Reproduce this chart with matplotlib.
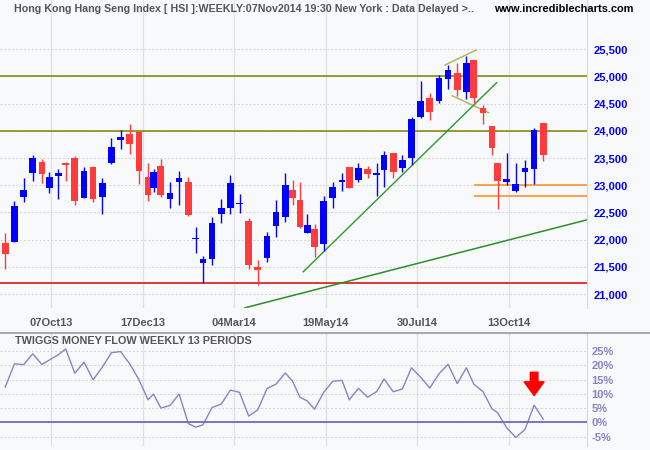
import numpy as np
import matplotlib.pyplot as plt

plt.rcParams['font.family'] = ['Liberation Sans', 'DejaVu Sans']

# weekly HSI candles (Aug 2013 - Nov 2014)
opens = [21937, 21961, 22789, 23230, 23427, 22954, 23164, 23408, 23500, 22770,
         23335, 22789, 23414, 23837, 23942, 23978, 23151, 22954, 23353, 22752,
         23064, 23059, 22012, 21569, 21648, 22476, 22586, 22650, 22342, 21490,
         21667, 22255, 22421, 22912, 22728, 22126, 22195, 21924, 22770, 23064,
         23335, 23101, 23298, 23182, 23285, 23592, 23322, 23506, 24260, 24604,
         24548, 24958, 25063, 24719, 25302, 24420, 24089, 23408, 23059, 22899,
         23248, 23292, 24149]
highs = [22121, 22709, 23132, 23555, 23482, 23243, 23298, 23427, 23537, 23335,
         23353, 23132, 23868, 24015, 24125, 23990, 23408, 23298, 23482, 23059,
         23261, 23151, 22231, 21698, 22415, 22746, 23185, 22833, 22397, 21619,
         22139, 22728, 23224, 23096, 23059, 22465, 22281, 22796, 23053, 23219,
         23335, 23403, 23353, 23403, 23629, 23592, 23555, 24254, 24916, 24696,
         25027, 25211, 25253, 25382, 25302, 24475, 24089, 23408, 23587, 23403,
         23463, 24052, 24149]
lows = [21459, 21950, 22697, 23083, 23046, 22862, 22752, 23083, 22641, 22770,
        22697, 22476, 23395, 23671, 23579, 23028, 22715, 22880, 22789, 22586,
        22641, 22434, 21759, 21196, 21538, 22310, 22474, 22494, 21464, 21159,
        21588, 22053, 22329, 22641, 22218, 22115, 21685, 21795, 22575, 22899,
        22954, 23064, 23138, 22807, 22972, 23138, 23248, 23377, 24236, 24199,
        24506, 24775, 24646, 24591, 24506, 24120, 23561, 22568, 22998, 22880,
        22972, 23022, 23451]
closes = [21735, 22617, 22904, 23500, 23211, 23151, 23224, 23366, 22715, 23261,
          22752, 23040, 23702, 23886, 23763, 23267, 22825, 23243, 22825, 22862,
          23132, 22452, 22036, 21643, 22305, 22581, 23038, 22675, 21538, 21446,
          22066, 22507, 23004, 22770, 22237, 22263, 21869, 22704, 22967, 23090,
          22954, 23316, 23211, 23219, 23555, 23248, 23469, 24217, 24548, 24352,
          24977, 25119, 24756, 25247, 24609, 24322, 23690, 23083, 23108, 23022,
          23316, 24015, 23555]
# trading days in each week (holiday weeks are shorter)
days_in_week = [5, 5, 5, 5, 5, 4, 5, 4, 5, 5, 5, 5, 5, 5, 5, 5, 5, 3, 4, 5,
                5, 5, 4, 4, 5, 5, 5, 5, 5, 5, 5, 5, 5, 4, 4, 4, 4, 5, 5, 5,
                4, 5, 5, 5, 4, 5, 5, 5, 5, 5, 5, 5, 5, 5, 4, 5, 5, 3, 5, 5,
                5, 5, 5]
money_flow = [12.4, 20.5, 20.2, 24.0, 20.3, 21.8, 23.7, 25.7, 17.2, 21.1,
              14.9, 19.3, 24.4, 24.8, 20.5, 15.0, 7.9, 9.9, 5.0, 5.9,
              9.9, -0.4, -1.7, -0.9, 5.2, 6.4, 11.3, 10.5, 2.2, 4.4,
              11.8, 13.4, 17.3, 14.4, 8.8, 7.5, 4.6, 10.5, 14.4, 14.7,
              7.9, 11.9, 8.8, 10.8, 15.2, 10.7, 11.7, 19.1, 15.8, 12.0,
              17.0, 20.3, 13.6, 19.1, 13.4, 10.8, 4.7, 3.4, -1.9, -5.3,
              -2.5, 6.0, 1.1]

tick_labels = ['07Oct13', '17Dec13', '04Mar14', '19May14', '30Jul14', '13Oct14']
tick_week = [7, 17, 28, 39, 49, 60]
tick_days_back = [4, 3, 3, 4, 2, 4]

# drawn trendlines: (day, price) end points
pennant_top = [(245.3, 25210), (262.3, 25486)]
pennant_bottom = [(249.3, 24646), (269.2, 24333)]
up_trend = [(167.8, 21409), (273.5, 24885)]
long_trend = [(136.0, 20747), (340.0, 22512)]
resistance = [25000, 24000]
support_low = 21200
support_recent = [23000, 22800]
support_recent_start = 261

x = np.cumsum(days_in_week)
tick_pos = [x[w - 1] - b for w, b in zip(tick_week, tick_days_back)]

bg = '#f8f9fb'
fig = plt.figure(figsize=(6.5, 4.5), dpi=100, facecolor=bg)
W, H = 650, 450
ax = fig.add_axes([0 / W, (H - 308) / H, 587 / W, 308 / H], facecolor=bg)
ax2 = fig.add_axes([0 / W, (H - 446) / H, 587 / W, 113 / H], facecolor=bg)

xmin, xmax = 2.1, 322.9
for a in (ax, ax2):
    a.set_xlim(xmin, xmax)
    a.set_xticks(tick_pos)
    for s in ['left', 'top', 'bottom']:
        a.spines[s].set_visible(False)
    a.spines['right'].set_color('#d8d8d8')
    a.grid(axis='x', color='#e2e2e2', lw=1)
    a.grid(axis='y', color='#d9d9d9', lw=0.8, ls=(0, (2, 1.5)))
    a.set_axisbelow(True)
    a.yaxis.tick_right()
    a.tick_params(length=0)

# candles
for xi, o, h, l, c in zip(x, opens, highs, lows, closes):
    col = '#0000ff' if c >= o else '#ff3b3b'
    ax.vlines(xi, l, h, color=col, lw=1.0, zorder=3)
    ax.bar(xi, max(abs(c - o), 20), bottom=min(o, c), width=3.66, color=col, zorder=3)

for lvl in resistance:
    ax.axhline(lvl, color='#808000', lw=1.1, zorder=2)
ax.axhline(support_low, color='#e00000', lw=1.1, zorder=2)
for lvl in support_recent:
    ax.hlines(lvl, support_recent_start, xmax, color='#ff8c1a', lw=1.1, zorder=2)
for seg in (pennant_top, pennant_bottom):
    ax.plot(*zip(*seg), color='#b5b55a', lw=1.1, zorder=2)
ax.plot(*zip(*up_trend), color='#2a9a2a', lw=1.0, zorder=2)
ax.plot(*zip(*long_trend), color='#2a8f2a', lw=1.1, zorder=2)

ax.set_ylim(20743, 26406)
ax.set_yticks(np.arange(21000, 25501, 500))
ax.set_yticklabels([f'{v:,}' for v in range(21000, 25501, 500)])
ax.tick_params(axis='y', colors='#0000ff', labelsize=8, pad=5)
for t in ax.get_yticklabels():
    t.set_fontweight('bold')
ax.set_xticklabels(tick_labels, fontsize=8, fontweight='bold', color='#555555')
ax.tick_params(axis='x', pad=7)

fig.text(14 / W, 1 - 9 / H,
         'Hong Kong Hang Seng Index [ HSI ]:WEEKLY:07Nov2014 19:30 New York : Data Delayed >..',
         fontsize=7.7, fontweight='bold', color='#555555', va='center')
fig.text(494 / W, 1 - 9 / H, 'www.incrediblecharts.com', fontsize=7.9,
         fontweight='bold', color='black', va='center')

# money flow panel
ax2.plot(x, money_flow, color='#8585c8', lw=1.0)
ax2.axhline(0, color='#6c6cc0', lw=1.3)
ax2.set_ylim(-8.3, 31.3)
ax2.set_yticks(range(-5, 26, 5))
ax2.set_yticklabels([f'{v}%' for v in range(-5, 26, 5)])
ax2.tick_params(axis='y', colors='#8585c8', labelsize=8, pad=3)
for t in ax2.get_yticklabels():
    t.set_fontweight('bold')
ax2.set_xticklabels([])
fig.text(15 / W, 1 - 341 / H, 'TWIGGS MONEY FLOW WEEKLY 13 PERIODS', fontsize=7.8,
         fontweight='bold', color='#555555', va='center')
ax2.annotate('', xy=(x[61], 8.4), xytext=(x[61], 18.5),
             arrowprops=dict(arrowstyle='simple,head_length=0.9,head_width=1.3,tail_width=0.5',
                             color='#ff0000', mutation_scale=11))

fig.add_artist(plt.Line2D([0, 1], [1 - 333 / H, 1 - 333 / H], color='#999999', lw=1.2))

fig.savefig('out.png', dpi=100, facecolor=bg)
